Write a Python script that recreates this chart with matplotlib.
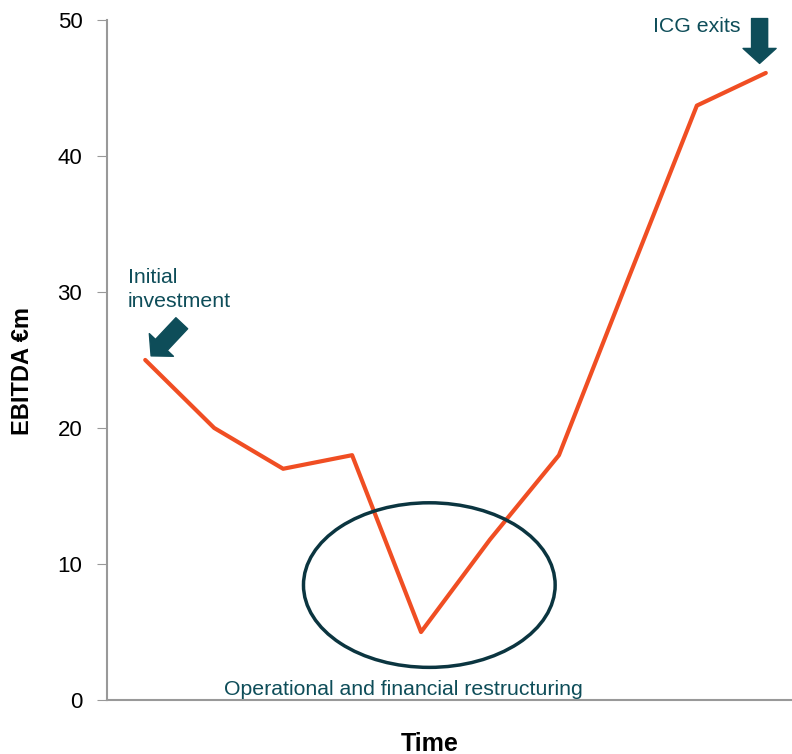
#!/bin/python3

# library imports
import matplotlib
matplotlib.use('Agg')
import matplotlib.pyplot as plt
from matplotlib.patches import Ellipse

plt.rcParams['font.family'] = ['Liberation Sans', 'DejaVu Sans']

# chart data
periods = list(range(10))  # time steps, no labels on the axis
ebitda = [25, 20, 17, 18, 5, 11.8, 18, 30.9, 43.7, 46.1]  # EBITDA in EUR m
y_ticks = [0, 10, 20, 30, 40, 50]

# colours
line_color = '#f04e23'
teal = '#0e4d59'
ring_color = '#0b3540'
spine_color = '#999999'

# arrow shape used for both call-outs
arrow_style = 'simple,head_length=0.54,head_width=1.19,tail_width=0.58'

fig = plt.figure(figsize=(7.92, 7.54), dpi=100)
ax = fig.add_axes([0.1355, 0.0716, 0.8645, 0.902])

ax.plot(periods, ebitda, color=line_color, linewidth=3, solid_capstyle='round', zorder=3)

ax.set_xlim(-0.55, 9.38)
ax.set_ylim(0, 50)
ax.set_yticks(y_ticks)
ax.set_xticks([])
ax.tick_params(axis='y', direction='out', length=7, color=spine_color, labelsize=16, pad=11)

for side in ['top', 'right']:
    ax.spines[side].set_visible(False)
for side in ['left', 'bottom']:
    ax.spines[side].set_color(spine_color)
    ax.spines[side].set_linewidth(1.5)

ax.set_ylabel('EBITDA €m', fontsize=17, fontweight='bold', va='center')
ax.yaxis.set_label_coords(-0.1246, 0.484)
ax.set_xlabel('Time', fontsize=18, fontweight='bold', va='center')
ax.xaxis.set_label_coords(0.471, -0.064)

# restructuring ring
ring = Ellipse((4.12, 8.45), width=3.65, height=12.1, fill=False,
               edgecolor=ring_color, linewidth=2.5, zorder=4, clip_on=False)
ax.add_patch(ring)
ax.text(3.75, 0.37, 'Operational and financial restructuring', color=teal,
        fontsize=15.3, ha='center', va='baseline')

# initial investment annotation
ax.text(-0.25, 31.75, 'Initial\ninvestment', color=teal, fontsize=15.3,
        ha='left', va='top', linespacing=1.3)
ax.annotate('', xy=(0.085, 25.3), xytext=(0.53, 27.7),
            arrowprops=dict(arrowstyle=arrow_style, color=teal,
                            shrinkA=0, shrinkB=0, mutation_scale=20),
            annotation_clip=False)

# exit annotation
ax.text(8.64, 49.55, 'ICG exits', color=teal, fontsize=15.3, ha='right', va='center')
ax.annotate('', xy=(8.91, 46.8), xytext=(8.91, 50.1),
            arrowprops=dict(arrowstyle=arrow_style, color=teal,
                            shrinkA=0, shrinkB=0, mutation_scale=20),
            annotation_clip=False)

fig.savefig('out.png', dpi=100)
